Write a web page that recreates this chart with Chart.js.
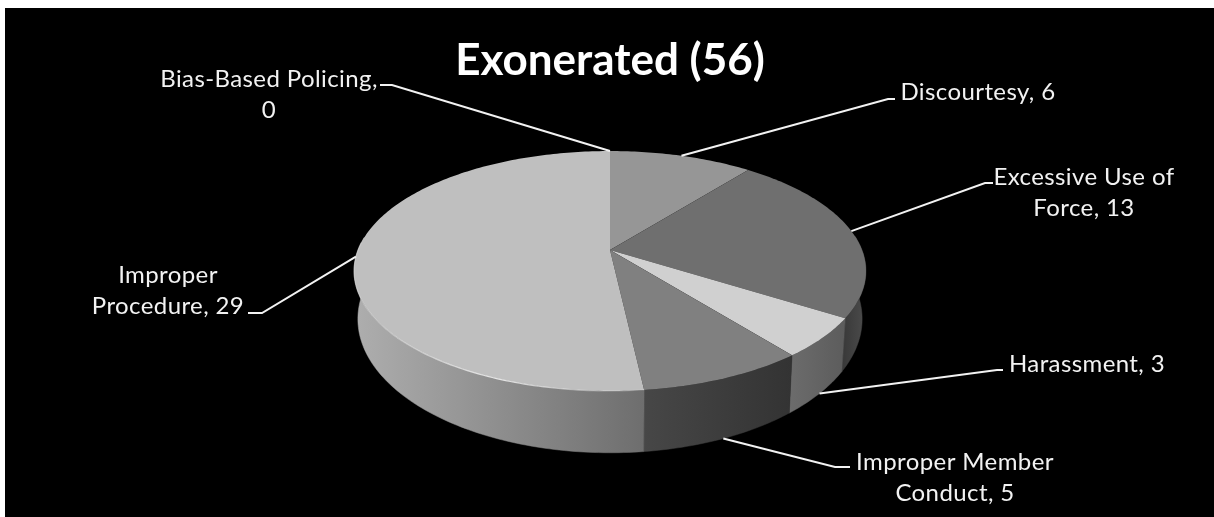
<!DOCTYPE html>
<html>
<head>
<meta charset="utf-8">
<title>Exonerated (56)</title>
<script src="https://cdn.jsdelivr.net/npm/chart.js@4/dist/chart.umd.min.js"></script>
<style>
    html, body { margin: 0; padding: 0; background: #fff; overflow: hidden; }
    canvas { display: block; }
</style>
</head>
<body>
<canvas id="pieChart" width="1214" height="517"></canvas>
<script>
const categories = ['Bias-Based Policing', 'Discourtesy', 'Excessive Use of Force', 'Harassment', 'Improper Member Conduct', 'Improper Procedure'];
const values = [0, 6, 13, 3, 5, 29];
const topColors = ['#bfbfbf', '#969696', '#6f6f6f', '#d0d0d0', '#808080', '#bfbfbf'];
// side wall shading, left to right
const sideColors = [
    ['#bfbfbf', '#bfbfbf'],
    ['#777777', '#777777'],
    ['#383838', '#4c4c4c'],
    ['#6c6c6c', '#5c5c5c'],
    ['#474747', '#333333'],
    ['#aeaeae', '#6e6e6e']
];
const labelLines = [
    ['Bias-Based Policing,', '0'],
    ['Discourtesy, 6'],
    ['Excessive Use of', 'Force, 13'],
    ['Harassment, 3'],
    ['Improper Member', 'Conduct, 5'],
    ['Improper', 'Procedure, 29']
];
// text centre x, first line y, leader elbow, leader end
const labelSpots = [
    { x: 269, y: 79, elbow: [392, 85], end: [380, 85] },
    { x: 978, y: 92, elbow: [888, 99], end: [895, 99] },
    { x: 1084, y: 177, elbow: [985, 183], end: [993, 183] },
    { x: 1087, y: 364, elbow: [997, 370], end: [1003, 370] },
    { x: 955, y: 462, elbow: [835, 467], end: [850, 467] },
    { x: 168, y: 275, elbow: [262, 313], end: [248, 313] }
];
const wallLeaders = [false, false, false, true, true, false];

// perspective of the tilted disc
const TILT = 0.175;
const FLATTEN = 0.4615;
const BOTTOM_SCALE = 0.985;
const BOTTOM_DROP = 45.6;
const BOTTOM_FLATTEN = 0.5145;

function rimPoint(arc, angle) {
    const px = Math.cos(angle), py = Math.sin(angle);
    const w = 1 - TILT * py;
    return [arc.x + arc.outerRadius * px / w, arc.y + arc.outerRadius * FLATTEN * py / w];
}

function basePoint(arc, angle) {
    const px = Math.cos(angle), py = Math.sin(angle);
    const w = 1 - TILT * py;
    return [
        arc.x + arc.outerRadius * BOTTOM_SCALE * px / w,
        arc.y + BOTTOM_DROP + arc.outerRadius * BOTTOM_FLATTEN * py / w
    ];
}

function sampleAngles(start, end) {
    const steps = Math.max(2, Math.ceil((end - start) * 60));
    const out = [];
    for (let i = 0; i <= steps; i++) out.push(start + (end - start) * i / steps);
    return out;
}

function drawSide(ctx, arc, colors) {
    // only the part of the wall facing the viewer
    const angles = sampleAngles(arc.startAngle, arc.endAngle).filter(a => Math.sin(a) > -0.12);
    if (angles.length < 2) return;
    const top = angles.map(a => rimPoint(arc, a));
    const bottom = angles.map(a => basePoint(arc, a)).reverse();
    const xs = top.concat(bottom).map(p => p[0]);
    const grad = ctx.createLinearGradient(Math.min(...xs), 0, Math.max(...xs), 0);
    grad.addColorStop(0, colors[0]);
    grad.addColorStop(1, colors[1]);
    ctx.beginPath();
    top.concat(bottom).forEach((p, i) => i ? ctx.lineTo(p[0], p[1]) : ctx.moveTo(p[0], p[1]));
    ctx.closePath();
    ctx.fillStyle = grad;
    ctx.strokeStyle = grad;
    ctx.lineWidth = 0.5;
    ctx.fill();
    ctx.stroke();
}

function drawTop(ctx, arc) {
    ctx.beginPath();
    ctx.moveTo(arc.x, arc.y);
    sampleAngles(arc.startAngle, arc.endAngle).forEach(a => {
        const p = rimPoint(arc, a);
        ctx.lineTo(p[0], p[1]);
    });
    ctx.closePath();
    ctx.fillStyle = arc.options.backgroundColor;
    ctx.fill();
}

const piePerspective = {
    id: 'piePerspective',
    beforeDraw(chart) {
        const ctx = chart.ctx;
        ctx.fillStyle = '#000';
        ctx.fillRect(5, 8, chart.width - 5, chart.height - 8);
    },
    beforeDatasetDraw(chart, args) {
        const ctx = chart.ctx;
        const arcs = args.meta.data;
        ctx.save();
        arcs.forEach((arc, i) => {
            if (values[i] > 0) drawSide(ctx, arc, sideColors[i]);
        });
        arcs.forEach((arc, i) => {
            if (values[i] > 0) drawTop(ctx, arc);
        });

        // light edge along the front of the largest slice
        const big = arcs[arcs.length - 1];
        const grad = ctx.createLinearGradient(354, 0, 640, 0);
        grad.addColorStop(0, 'rgba(235,235,235,0.35)');
        grad.addColorStop(0.5, 'rgba(240,240,240,0.9)');
        grad.addColorStop(1, 'rgba(235,235,235,0.15)');
        ctx.beginPath();
        sampleAngles(big.startAngle, Math.PI * 1.02).forEach((a, i) => {
            const p = rimPoint(big, a);
            i ? ctx.lineTo(p[0], p[1]) : ctx.moveTo(p[0], p[1]);
        });
        ctx.strokeStyle = grad;
        ctx.lineWidth = 1.2;
        ctx.stroke();
        ctx.restore();
        return false;
    },
    afterDatasetsDraw(chart) {
        const ctx = chart.ctx;
        const arcs = chart.getDatasetMeta(0).data;
        ctx.save();
        ctx.textAlign = 'center';
        ctx.textBaseline = 'middle';
        ctx.font = '24px Lato';
        ctx.letterSpacing = '0.4px';
        arcs.forEach((arc, i) => {
            const mid = (arc.startAngle + arc.endAngle) / 2;
            const from = wallLeaders[i] ? basePoint(arc, mid) : rimPoint(arc, mid);
            const spot = labelSpots[i];
            ctx.beginPath();
            ctx.moveTo(from[0], from[1]);
            ctx.lineTo(spot.elbow[0], spot.elbow[1]);
            ctx.lineTo(spot.end[0], spot.end[1]);
            ctx.strokeStyle = '#f2f2f2';
            ctx.lineWidth = 2;
            ctx.stroke();

            ctx.fillStyle = '#f2f2f2';
            labelLines[i].forEach((line, n) => ctx.fillText(line, spot.x, spot.y + n * 31.5));
        });
        ctx.restore();
    }
};

const titleSize = 44;
const titleTop = 34;

new Chart(document.getElementById('pieChart'), {
    type: 'pie',
    data: {
        labels: categories,
        datasets: [{
            data: values,
            backgroundColor: topColors,
            borderWidth: 0,
            radius: 252
        }]
    },
    options: {
        responsive: false,
        animation: false,
        layout: { padding: { left: 6, bottom: 17 + titleTop + titleSize * 1.2 } },
        plugins: {
            legend: { display: false },
            tooltip: { enabled: false },
            title: {
                display: true,
                text: 'Exonerated (56)',
                color: '#ffffff',
                font: { family: 'Lato', size: titleSize, weight: 'bold' },
                padding: { top: titleTop, bottom: 0 }
            }
        }
    },
    plugins: [piePerspective]
});
</script>
</body>
</html>
